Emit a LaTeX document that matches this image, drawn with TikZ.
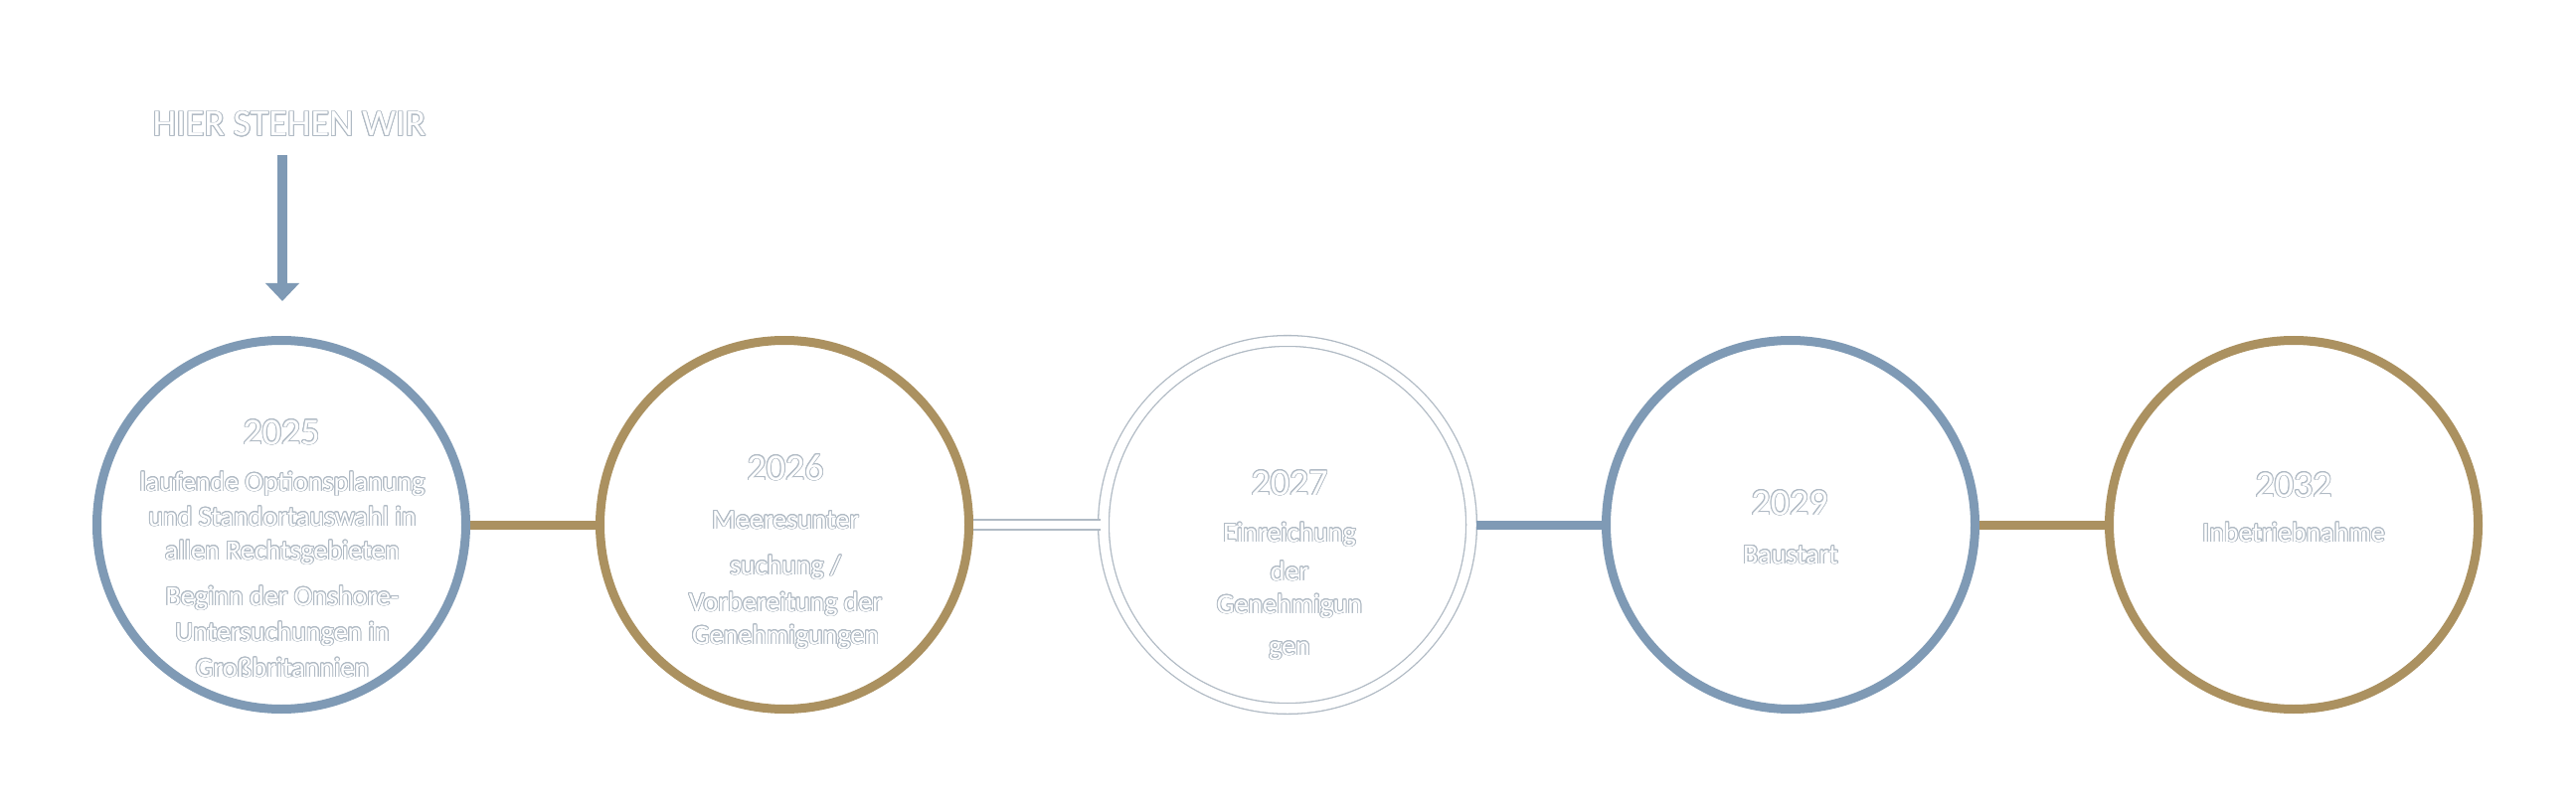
\documentclass[tikz,border=0pt]{standalone}
\usepackage{fontspec}
\setmainfont{Carlito}
\usepackage{contour}
\contourlength{0.9pt}
\usetikzlibrary{arrows.meta}
\definecolor{tlblue}{HTML}{7F9AB5}
\definecolor{tlgold}{HTML}{AB9160}
\definecolor{tloutl}{HTML}{B0BAC4}
\newcommand{\otx}[1]{\contour{tloutl}{#1}}
\begin{document}
\begin{tikzpicture}[x=1pt,y=-1pt,
  ring/.style={circle, minimum size=371pt, inner sep=0pt, outer sep=4.5pt, line width=9pt},
  bluering/.style={ring, draw=tlblue},
  goldring/.style={ring, draw=tlgold},
  whitering/.style={circle, minimum size=370pt, inner sep=0pt, outer sep=0pt, draw=tloutl, line width=1.3pt, double=white, double distance=9.5pt},
  link/.style={line width=9pt},
  whitelink/.style={draw=tloutl, line width=1.3pt, double=white, double distance=8.7pt},
  yeartxt/.style={text=white, font=\fontsize{38}{40}\selectfont, inner sep=0pt, anchor=base},
  bodytxt/.style={text=white, font=\fontsize{28}{34}\selectfont, inner sep=0pt, anchor=base},
  toptxt/.style={text=white, font=\fontsize{38}{40}\selectfont, inner sep=0pt, anchor=base},
  pointer/.style={draw=tlblue, line width=10pt, -{Triangle[width=33pt,length=18pt,fill=tlblue]}}
]
\useasboundingbox[fill=white] (0,0) rectangle (2591,810);

% circles
\node[bluering]  (c1) at (283,528) {};
\node[goldring]  (c2) at (789,528) {};
\node[whitering] (c3) at (1295,528) {};
\node[bluering]  (c4) at (1801,528) {};
\node[goldring]  (c5) at (2307,528) {};

% connectors
\draw[link, tlgold] (c1.east) -- (c2.west);
\draw[whitelink] (c2.east) -- ([xshift=-3pt]c3.west);
\draw[link, tlblue] ([xshift=5pt]c3.east) -- (c4.west);
\draw[link, tlgold] (c4.east) -- (c5.west);

% pointer
\node[toptxt] (lbl) at (291,137) {\otx{HIER STEHEN WIR}};
\coordinate (arrTop) at (284,156);
\coordinate (arrTip) at (284,303);
\draw[pointer] (arrTop) -- (arrTip);

% years
\node[yeartxt] (y1) at (283,447) {\otx{2025}};
\node[yeartxt] (y2) at (790,483) {\otx{2026}};
\node[yeartxt] (y3) at (1297,498) {\otx{2027}};
\node[yeartxt] (y4) at (1800,518) {\otx{2029}};
\node[yeartxt] (y5) at (2307,500) {\otx{2032}};

% texts circle 1
\foreach \t/\yy [count=\i] in {{laufende Optionsplanung}/494, {und Standortauswahl in}/529, {allen Rechtsgebieten}/563, {Beginn der Onshore-}/609, {Untersuchungen in}/645, {Großbritannien}/681}
  \node[bodytxt] (a\i) at (284,\yy) {\otx{\t}};
% circle 2
\foreach \t/\yy [count=\i] in {{Meeresunter}/532, {suchung /}/578, {Vorbereitung der}/615, {Genehmigungen}/648}
  \node[bodytxt] (b\i) at (790,\yy) {\otx{\t}};
% circle 3
\foreach \t/\yy [count=\i] in {{Einreichung}/545, {der}/584, {Genehmigun}/617, {gen}/659}
  \node[bodytxt] (d\i) at (1297,\yy) {\otx{\t}};
% circle 4
\node[bodytxt] (e1) at (1801,567) {\otx{Baustart}};
% circle 5
\node[bodytxt] (f1) at (2307,545) {\otx{Inbetriebnahme}};
\end{tikzpicture}
\end{document}
